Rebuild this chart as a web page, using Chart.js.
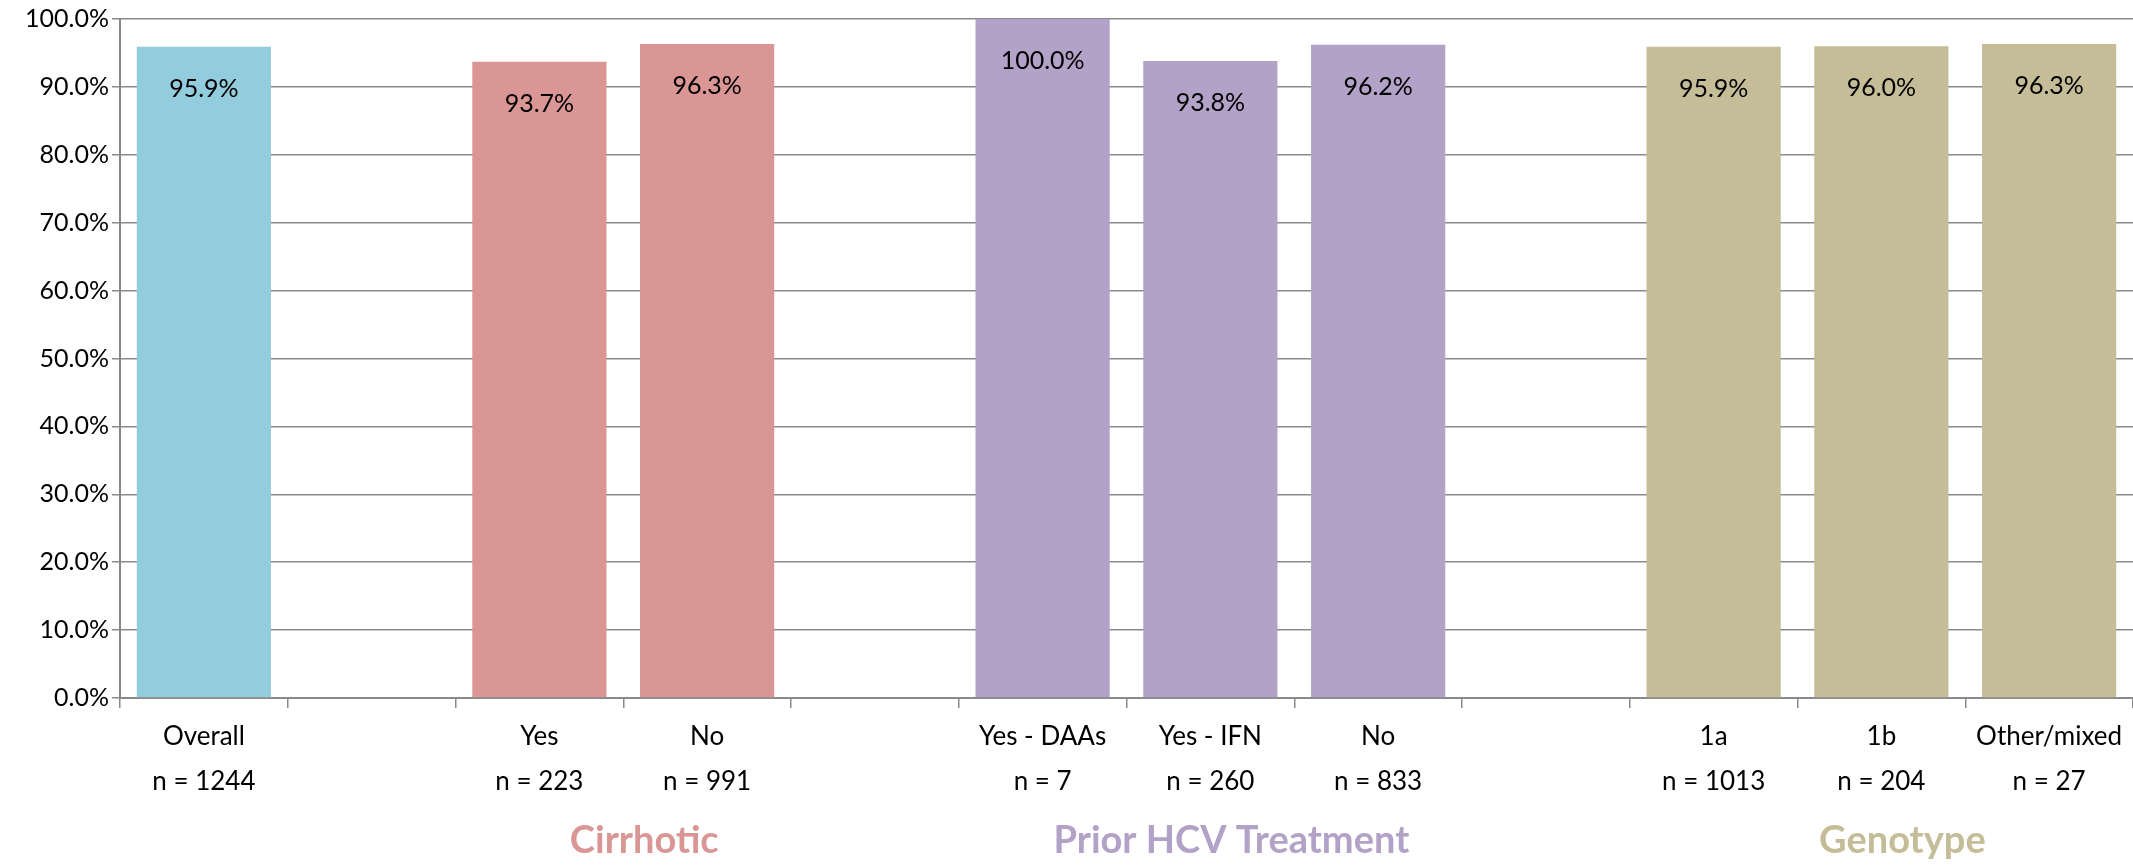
<!DOCTYPE html>
<html>
<head>
<meta charset="utf-8">
<script src="https://cdn.jsdelivr.net/npm/chart.js@4/dist/chart.umd.min.js"></script>
<style>
  html, body { margin: 0; padding: 0; background: #fff; }
  #wrap { width: 2133px; height: 867px; }
</style>
</head>
<body>
<div id="wrap"><canvas id="svr-chart"></canvas></div>
<script>
// ===== data =====
const categories = ["Overall", "", "Yes", "No", "", "Yes - DAAs", "Yes - IFN", "No", "", "1a", "1b", "Other/mixed"];
const sampleSizes = ["n = 1244", "", "n = 223", "n = 991", "", "n = 7", "n = 260", "n = 833", "", "n = 1013", "n = 204", "n = 27"];
const svrRates = [95.9, null, 93.7, 96.3, null, 100.0, 93.8, 96.2, null, 95.9, 96.0, 96.3];
const groupNames = ["Cirrhotic", "Prior HCV Treatment", "Genotype"];
const groupFirst = [2, 5, 9];
const groupLast = [3, 7, 11];

// ===== styles =====
const barColors = ["#93cddd", null, "#d99694", "#d99694", null, "#b3a2c7", "#b3a2c7", "#b3a2c7", null, "#c4bd97", "#c4bd97", "#c4bd97"];
const groupColors = ["#d99694", "#b3a2c7", "#c4bd97"];
const FONT = "Lato, 'Liberation Sans', sans-serif";
const GRID = "#8a8a8a";

// valores dentro da barra, perto do topo
const barValues = {
  id: "barValues",
  afterDatasetsDraw(chart) {
    const ctx = chart.ctx;
    const meta = chart.getDatasetMeta(0);
    ctx.save();
    ctx.font = "25px " + FONT;
    ctx.fillStyle = "#000";
    ctx.textAlign = "center";
    ctx.textBaseline = "middle";
    meta.data.forEach((bar, i) => {
      const v = svrRates[i];
      if (v == null) return;
      ctx.fillText(v.toFixed(1) + "%", bar.x, bar.y + 42);
    });
    ctx.restore();
  }
};

// nomes dos grupos embaixo do eixo
const groupTitles = {
  id: "groupTitles",
  afterDraw(chart) {
    const ctx = chart.ctx;
    const x = chart.scales.x;
    const y = chart.chartArea.bottom + 143;
    ctx.save();
    ctx.font = "bold 38px " + FONT;
    ctx.textAlign = "center";
    ctx.textBaseline = "middle";
    groupNames.forEach((name, g) => {
      const cx = (x.getPixelForValue(groupFirst[g]) + x.getPixelForValue(groupLast[g])) / 2 + 21;
      ctx.fillStyle = groupColors[g];
      ctx.fillText(name, cx, y);
    });
    ctx.restore();
  }
};

new Chart(document.getElementById("svr-chart"), {
  type: "bar",
  data: {
    labels: categories.map((c, i) => [c, sampleSizes[i]]),
    datasets: [{
      data: svrRates,
      backgroundColor: barColors,
      categoryPercentage: 1,
      barPercentage: 0.8
    }]
  },
  options: {
    responsive: true,
    maintainAspectRatio: false,
    animation: false,
    layout: { padding: { top: 19, right: 0, bottom: 0, left: 0 } },
    plugins: {
      legend: { display: false },
      tooltip: { enabled: false }
    },
    scales: {
      x: {
        offset: true,
        grid: {
          offset: true,
          drawOnChartArea: false,
          color: GRID,
          lineWidth: 1.5,
          tickLength: 10
        },
        border: { color: GRID, width: 2 },
        ticks: {
          color: "#000",
          font: { family: FONT, size: 26, lineHeight: 1.73 },
          padding: 6,
          maxRotation: 0,
          autoSkip: false
        },
        afterFit(scale) { scale.height = 169; }
      },
      y: {
        min: 0,
        max: 100,
        grid: { color: GRID, lineWidth: 1.5, tickLength: 8 },
        border: { color: GRID, width: 2 },
        ticks: {
          stepSize: 10,
          color: "#000",
          font: { family: FONT, size: 25 },
          padding: 3,
          callback: v => v.toFixed(1) + "%"
        },
        afterFit(scale) { scale.width = 120; }
      }
    }
  },
  plugins: [barValues, groupTitles]
});
</script>
</body>
</html>
